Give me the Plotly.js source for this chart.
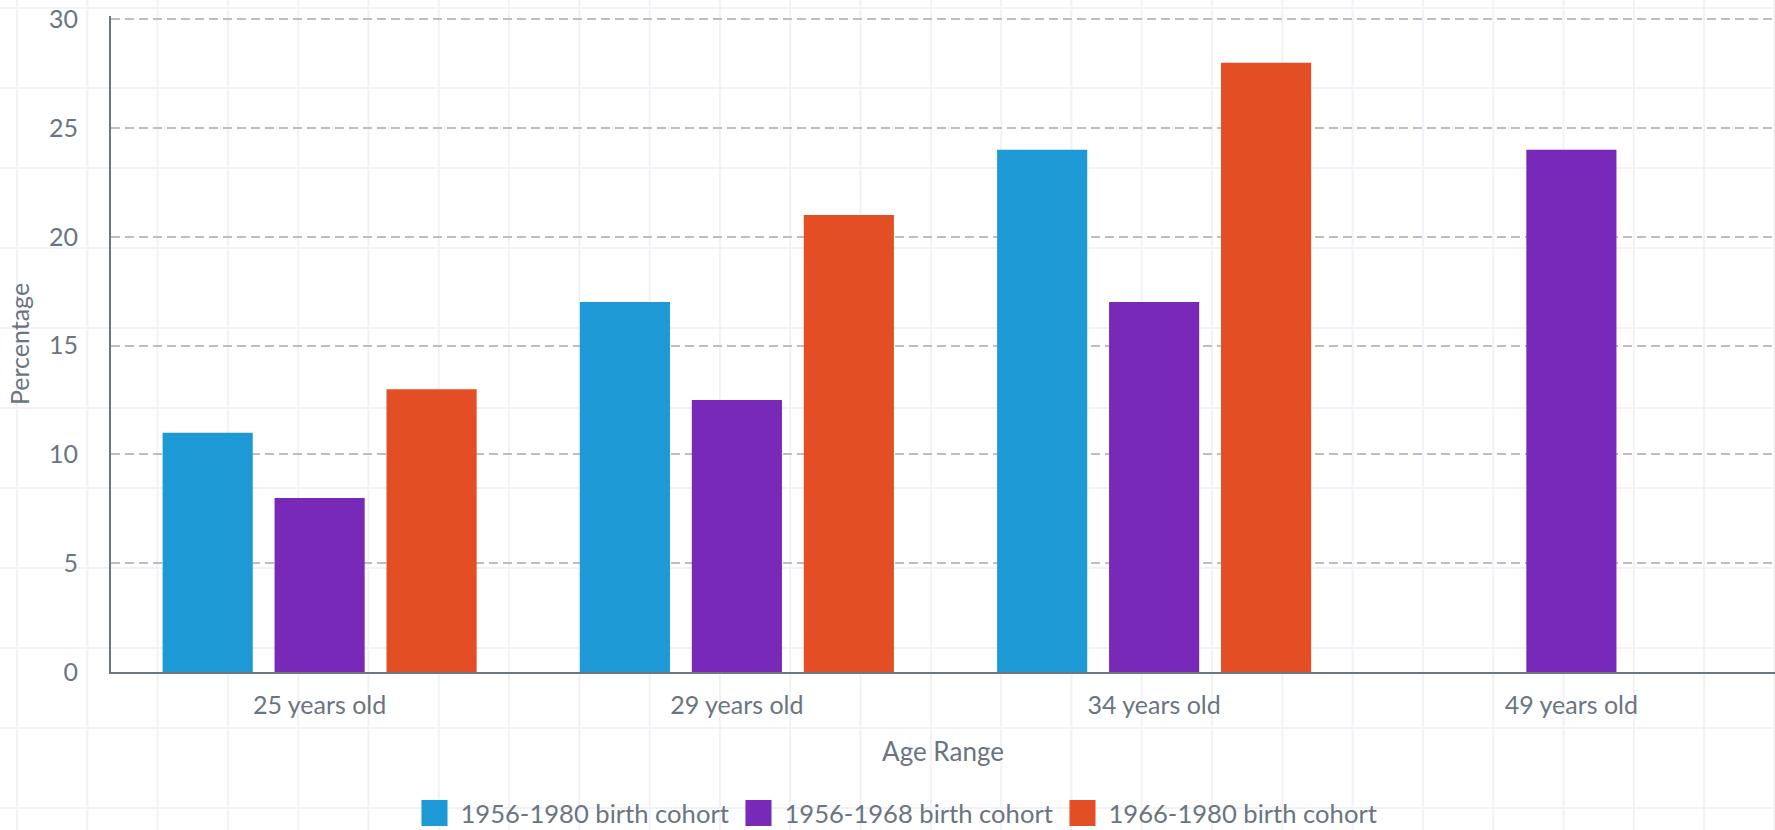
<!DOCTYPE html>
<html>
<head>
<meta charset="utf-8">
<script src="https://cdn.plot.ly/plotly-3.0.1.min.js"></script>
<style>
  html, body { margin: 0; padding: 0; }
  body {
    width: 1775px; height: 830px; overflow: hidden;
    background-color: #ffffff;
    background-image:
      linear-gradient(to right, #f1f1f7 2px, transparent 2px),
      linear-gradient(to bottom, #f1f1f7 2px, transparent 2px);
    background-size: 70.3px 80px;
    background-position: 16px 7px;
  }
  #chart { width: 1775px; height: 830px; }
  .legend .legendpoints path { transform: translate(14px, 0px) scale(2.17); }
</style>
</head>
<body>
<div id="chart"></div>
<script>
const categories = ["25 years old", "29 years old", "34 years old", "49 years old"];
const seriesNames = ["1956-1980 birth cohort", "1956-1968 birth cohort", "1966-1980 birth cohort"];
const cohort1956_1980 = [11, 17, 24, null];
const cohort1956_1968 = [8, 12.5, 17, 24];
const cohort1966_1980 = [13, 21, 28, null];
const yTicks = [0, 5, 10, 15, 20, 25, 30];

const colors = ["#1d99d6", "#7829b8", "#e34e24"];
const values = [cohort1956_1980, cohort1956_1968, cohort1966_1980];
const textColor = "#6b7580";
const fontFamily = "Lato, 'Open Sans', sans-serif";

const traces = values.map((v, i) => ({
  type: "bar",
  name: seriesNames[i],
  x: categories,
  y: v,
  marker: { color: colors[i], line: { width: 0 } },
  hoverinfo: "skip"
}));

const layout = {
  width: 1775,
  height: 830,
  margin: { l: 111, r: 0, t: 16, b: 158, autoexpand: false },
  paper_bgcolor: "rgba(0,0,0,0)",
  plot_bgcolor: "rgba(0,0,0,0)",
  font: { family: fontFamily, color: textColor, size: 25 },
  barmode: "group",
  bargap: 0.195,
  bargroupgap: 0.195,
  showlegend: true,
  legend: {
    orientation: "h",
    xref: "container",
    yref: "container",
    x: 0.5107,
    xanchor: "center",
    y: 0.02,
    yanchor: "middle",
    entrywidth: 279,
    entrywidthmode: "pixels",
    font: { family: fontFamily, color: textColor, size: 25.6 },
    bgcolor: "rgba(0,0,0,0)",
    traceorder: "normal"
  },
  xaxis: {
    type: "category",
    range: [-0.5, 3.488],
    automargin: false,
    showgrid: false,
    zeroline: false,
    showline: true,
    linecolor: "#6e7780",
    linewidth: 2,
    ticks: "outside",
    ticklen: 10,
    tickcolor: "rgba(0,0,0,0)",
    tickfont: { family: fontFamily, color: textColor, size: 25 },
    title: { text: "Age Range", standoff: 25, font: { family: fontFamily, color: textColor, size: 26 } }
  },
  yaxis: {
    range: [0, 30.15],
    tickvals: yTicks,
    ticktext: yTicks.map(String),
    automargin: false,
    showgrid: true,
    gridcolor: "#bdbdc2",
    gridwidth: 2,
    griddash: "9px,5px",
    zeroline: false,
    showline: true,
    linecolor: "#6e7780",
    linewidth: 2,
    ticks: "outside",
    ticklen: 26,
    tickcolor: "rgba(0,0,0,0)",
    tickfont: { family: fontFamily, color: textColor, size: 25 },
    title: { text: "Percentage", standoff: 12, font: { family: fontFamily, color: textColor, size: 25 } }
  }
};

Plotly.newPlot("chart", traces, layout, { staticPlot: true, displayModeBar: false });
</script>
</body>
</html>
